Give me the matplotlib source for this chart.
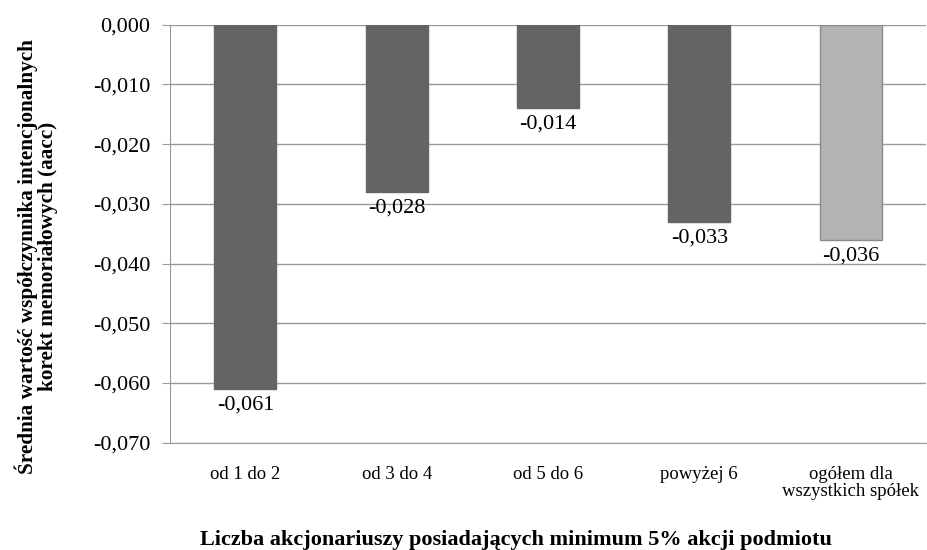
import numpy as np
import matplotlib.pyplot as plt
from matplotlib.ticker import FuncFormatter

plt.rcParams["font.family"] = ["Liberation Serif", "DejaVu Serif"]

categories = ["od 1 do 2", "od 3 do 4", "od 5 do 6", "powyżej 6",
              "ogółem dla\nwszystkich spółek"]
values = [-0.061, -0.028, -0.014, -0.033, -0.036]
colors = ["#646464", "#646464", "#646464", "#646464", "#b4b4b6"]
edges = ["#646464", "#646464", "#646464", "#646464", "#8a8a8a"]

fig = plt.figure(figsize=(9.28, 5.5), dpi=100)
ax = fig.add_axes([0.183, 0.195, 0.815, 0.76])

x = np.arange(len(values))
ax.bar(x, values, width=0.41, color=colors, edgecolor=edges, linewidth=1, zorder=2)

for xi, v in zip(x, values):
    ax.text(xi, v - 0.0011, ("%.3f" % v).replace(".", ","), ha="center", va="top",
            fontsize=16, zorder=3)

ax.set_xlim(-0.5, len(values) - 0.5)
ax.set_ylim(-0.070, 0.0)
ax.set_yticks(np.arange(-0.070, 0.0001, 0.010))
ax.yaxis.set_major_formatter(FuncFormatter(lambda v, p: ("%.3f" % v).replace(".", ",").replace("-0,000", "0,000")))
ax.set_xticks(x)
ax.set_xticklabels(categories, fontsize=13.5, linespacing=1.0)
ax.tick_params(axis="x", length=0, pad=17)
ax.tick_params(axis="y", length=6, color="#9a9a9a", labelsize=16, pad=8)

ax.grid(axis="y", color="#9a9a9a", linewidth=1, zorder=0)
for s in ["top", "right"]:
    ax.spines[s].set_visible(False)
for s in ["left", "bottom"]:
    ax.spines[s].set_color("#9a9a9a")

# axis titles placed on the figure
fig.text(0.039, 0.533, "Średnia wartość współczynnika intencjonalnych\nkorekt memoriałowych (aacc)",
         rotation=90, ha="center", va="center", fontsize=15.3, fontweight="bold",
         linespacing=1.0, multialignment="center")
fig.text(0.556, 0.018, "Liczba akcjonariuszy posiadających minimum 5% akcji podmiotu",
         ha="center", va="center", fontsize=16, fontweight="bold")

fig.savefig("out.png", dpi=100)
